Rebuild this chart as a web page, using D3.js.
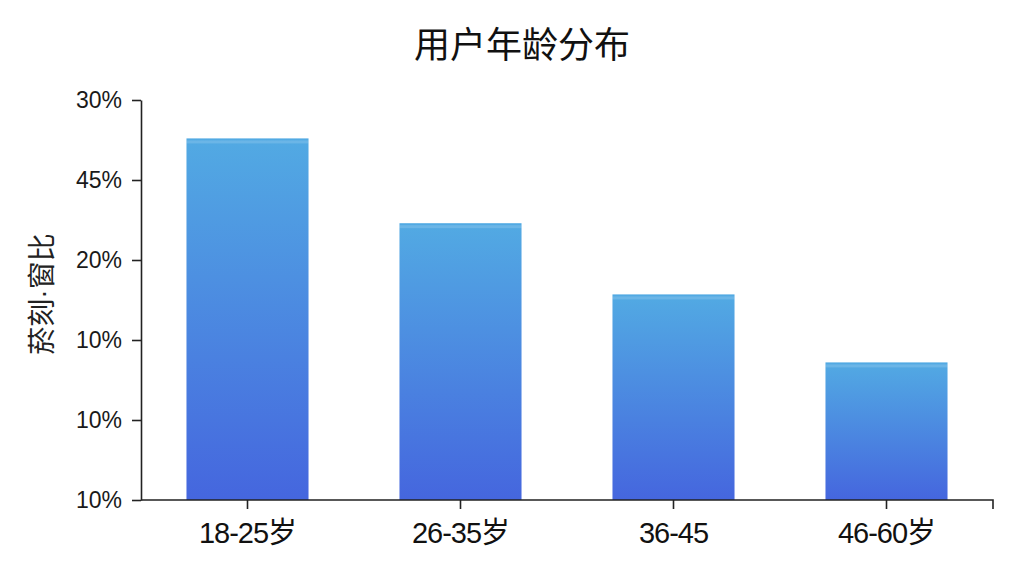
<!DOCTYPE html>
<html>
<head>
<meta charset="utf-8">
<script src="https://cdn.jsdelivr.net/npm/d3@7"></script>
<style>
    html, body { margin: 0; padding: 0; background: #fff; }
    svg { display: block; font-family: "Liberation Sans", Arial, "Noto Sans CJK SC", sans-serif; }
</style>
</head>
<body>
<div id="chart"></div>
<script>
    const title = "用户年龄分布";
    const yTitle = ["菸刻", "·", "窗比"];
    const categories = ["18-25岁", "26-35岁", "36-45", "46-60岁"];
    const values = [45.2, 34.6, 25.7, 17.2];
    const tickValues = [0, 10, 20, 30, 40, 50];
    const tickLabels = ["10%", "10%", "10%", "20%", "45%", "30%"];

    const width = 1024, height = 576,
        mLeft = 141, mRight = 993, mTop = 100, mBottom = 500;

    const svg = d3.select("#chart")
        .append("svg")
        .attr("width", width)
        .attr("height", height);

    const grad = svg.append("defs").append("linearGradient")
        .attr("id", "barFill")
        .attr("x1", 0).attr("y1", 0)
        .attr("x2", 0).attr("y2", 1);
    grad.append("stop").attr("offset", "0%").attr("stop-color", "#52aae3");
    grad.append("stop").attr("offset", "100%").attr("stop-color", "#4566de");

    let x = d3.scaleBand()
        .domain(categories)
        .range([mLeft, mRight])
        .paddingInner(0.427)
        .paddingOuter(0.2135);

    let y = d3.scaleLinear()
        .domain([0, 50])
        .range([mBottom, mTop]);

    // bars
    let bars = svg.append("g");
    categories.forEach(function (c, i) {
        bars.append("rect")
            .attr("x", x(c))
            .attr("y", y(values[i]))
            .attr("width", x.bandwidth())
            .attr("height", y(0) - y(values[i]))
            .attr("fill", "url(#barFill)");
        // light strip on top edge
        bars.append("rect")
            .attr("x", x(c))
            .attr("y", y(values[i]) + 2)
            .attr("width", x.bandwidth())
            .attr("height", 3)
            .attr("fill", "#ffffff")
            .attr("opacity", 0.15);
    });

    // y axis
    let yAxis = svg.append("g")
        .attr("transform", "translate(" + mLeft + ",0)")
        .call(d3.axisLeft(y)
            .tickValues(tickValues)
            .tickFormat((d, i) => tickLabels[i])
            .tickSize(9)
            .tickSizeOuter(0)
            .tickPadding(10));
    yAxis.select(".domain").attr("stroke", "#222").attr("stroke-width", 1.6);
    yAxis.selectAll(".tick line").attr("stroke", "#222").attr("stroke-width", 1.6);
    yAxis.selectAll(".tick text")
        .attr("fill", "#1a1a1a")
        .style("font-size", "23px")
        .style("font-family", "'Liberation Sans', Arial, sans-serif");

    // x axis
    let xAxis = svg.append("g")
        .attr("transform", "translate(0," + mBottom + ")")
        .call(d3.axisBottom(x)
            .tickSize(9)
            .tickSizeOuter(9)
            .tickPadding(8));
    xAxis.select(".domain").attr("stroke", "#222").attr("stroke-width", 1.6)
        .attr("d", "M" + mLeft + ",0H" + mRight + "V9");
    xAxis.selectAll(".tick line").attr("stroke", "#222").attr("stroke-width", 1.6);
    xAxis.selectAll(".tick text")
        .attr("fill", "#111")
        .attr("dy", "0.9em")
        .style("font-size", "29px")
        .style("letter-spacing", "-1px")
        .style("font-family", "'Liberation Sans', 'Noto Sans CJK SC', sans-serif");

    // titles
    svg.append("text")
        .attr("x", 522)
        .attr("y", 58)
        .attr("text-anchor", "middle")
        .attr("fill", "#111")
        .style("font-size", "36px")
        .style("font-family", "'Noto Sans CJK SC', sans-serif")
        .text(title);

    let yt = svg.append("text")
        .attr("transform", "translate(52,294) rotate(-90)")
        .attr("text-anchor", "middle")
        .attr("fill", "#222")
        .style("font-size", "28px")
        .style("font-family", "'Noto Sans CJK SC', sans-serif");
    yTitle.forEach(function (s, i) {
        yt.append("tspan")
            .style("font-family", i === 1 ? "'Liberation Sans', sans-serif" : null)
            .text(s);
    });
</script>
</body>
</html>
